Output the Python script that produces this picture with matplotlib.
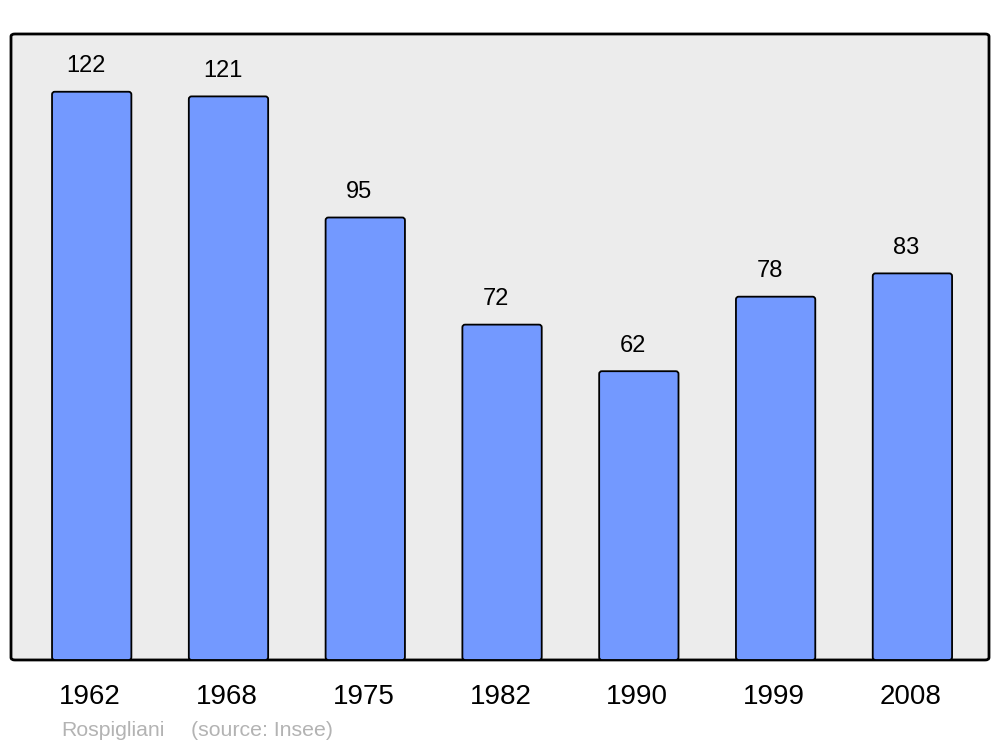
import matplotlib.pyplot as plt
from matplotlib.patches import FancyBboxPatch

years = ["1962", "1968", "1975", "1982", "1990", "1999", "2008"]
population = [122, 121, 95, 72, 62, 78, 83]
town = "Rospigliani"
source = "(source: Insee)"

plt.rcParams["font.family"] = ["Liberation Sans", "DejaVu Sans"]

fig = plt.figure(figsize=(10, 7.47), dpi=100)
ax = fig.add_axes([0.011, 0.1165, 0.978, 0.838])
ax.set_facecolor("none")

# rounded frame behind the bars
frame = FancyBboxPatch((0, 0), 1, 1, boxstyle="round,pad=0,rounding_size=0.004",
                       transform=ax.transAxes, facecolor="#ececec",
                       edgecolor="black", linewidth=2.0, zorder=0, clip_on=False)
ax.add_patch(frame)

ax.set_xlim(-0.59, 6.56)
ax.set_ylim(0, 134.4)

x = range(len(years))
bars = ax.bar(x, population, width=0.58, color="#7399ff", edgecolor="black",
              linewidth=1.3, zorder=2)
# swap the plain rectangles for ones with slightly rounded corners
for b in bars:
    b.set_visible(False)
    rp = FancyBboxPatch((b.get_x(), b.get_y()), b.get_width(), b.get_height(),
                        boxstyle="round,pad=0,rounding_size=0.02",
                        mutation_aspect=29.4, facecolor="#7399ff",
                        edgecolor="black", linewidth=1.3, zorder=2)
    ax.add_patch(rp)

for i, v in zip(x, population):
    ax.text(i - 0.044, v + 5.5, str(v), ha="center", va="center", fontsize=17)

for s in ax.spines.values():
    s.set_visible(False)
ax.set_yticks([])
ax.set_xticks([i - 0.012 for i in x])
ax.set_xticklabels(years, fontsize=20)
ax.tick_params(axis="x", length=0, pad=17)

fig.text(0.061, 0.0225, town, color="#b3b3b3", fontsize=15.3, ha="left", va="center")
fig.text(0.191, 0.0225, source, color="#b3b3b3", fontsize=15.3, ha="left", va="center")

fig.savefig("out.png", dpi=100)
